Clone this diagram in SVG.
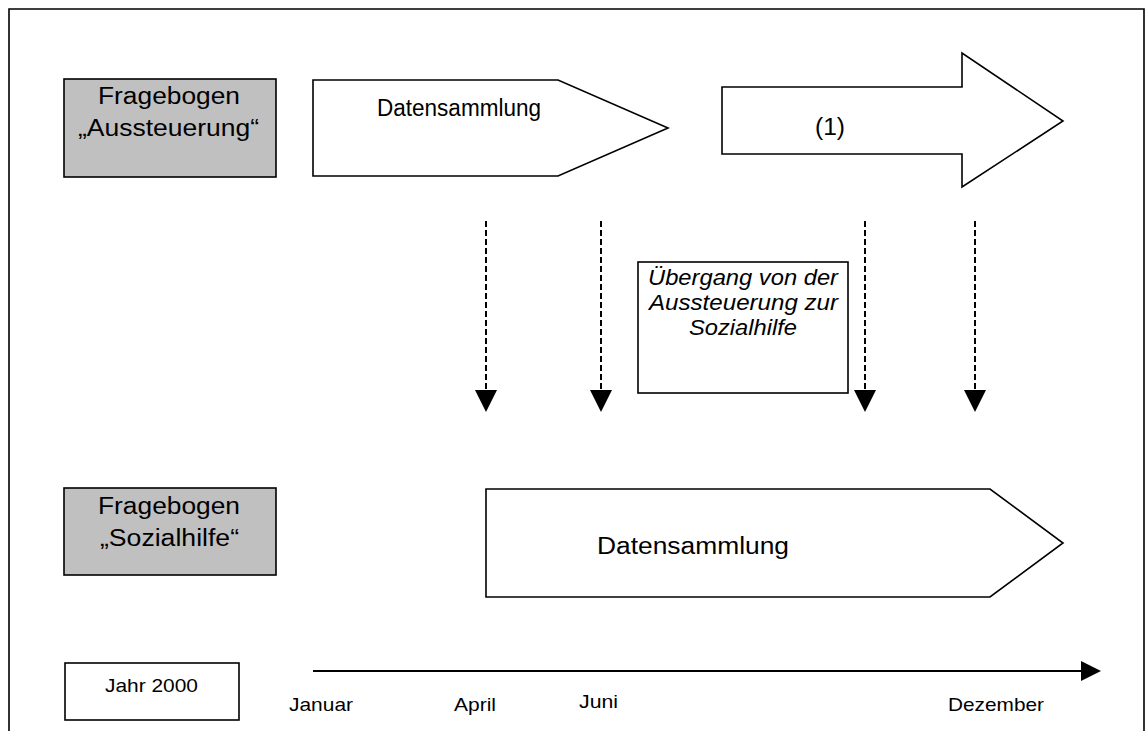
<svg xmlns="http://www.w3.org/2000/svg" width="1146" height="731" viewBox="0 0 1146 731">
<style>
text{font-family:"Liberation Sans",Arial,sans-serif;fill:#000}
.shape{fill:#fff;stroke:#000;stroke-width:1.6}
.gray{fill:#c0c0c0;stroke:#000;stroke-width:1.6}
.lbl{font-size:23px}
.it{font-size:22px;font-style:italic}
.sm{font-size:19px}
.dash{stroke:#000;stroke-width:2;stroke-dasharray:6 3;fill:none}
.head{fill:#000}
</style>
<rect width="1146" height="731" fill="#fff"/>
<g id="frame" fill="none" stroke="#000" stroke-width="1.6">
<polyline points="9,731 9,9 1144,9 1144,731"/>
</g>
<g id="q1">
<rect class="gray" x="64" y="79" width="212" height="98"/>
<text class="lbl" x="98" y="104" textLength="142" lengthAdjust="spacingAndGlyphs">Fragebogen</text>
<text class="lbl" x="78" y="136" textLength="181" lengthAdjust="spacingAndGlyphs">„Aussteuerung“</text>
</g>
<g id="daten1">
<polygon class="shape" points="313,80 558,80 668,128 558,176 313,176"/>
<text class="lbl" x="377" y="116" textLength="164" lengthAdjust="spacingAndGlyphs">Datensammlung</text>
</g>
<g id="arrow1">
<polygon class="shape" points="722,87 962,87 962,53 1063,121 962,187 962,154 722,154"/>
<text class="lbl" x="815" y="135" textLength="30" lengthAdjust="spacingAndGlyphs">(1)</text>
</g>
<g id="uebergang">
<rect class="shape" x="638" y="262" width="210" height="131"/>
<text class="it" x="648" y="285" textLength="190" lengthAdjust="spacingAndGlyphs">Übergang von der</text>
<text class="it" x="649" y="310" textLength="189" lengthAdjust="spacingAndGlyphs">Aussteuerung zur</text>
<text class="it" x="689" y="335" textLength="108" lengthAdjust="spacingAndGlyphs">Sozialhilfe</text>
</g>
<g id="q2">
<rect class="gray" x="64" y="488" width="212" height="87"/>
<text class="lbl" x="98" y="514" textLength="142" lengthAdjust="spacingAndGlyphs">Fragebogen</text>
<text class="lbl" x="100" y="546" textLength="139" lengthAdjust="spacingAndGlyphs">„Sozialhilfe“</text>
</g>
<g id="daten2">
<polygon class="shape" points="486,489 990,489 1063,543 990,597 486,597"/>
<text class="lbl" x="597" y="554" textLength="192" lengthAdjust="spacingAndGlyphs">Datensammlung</text>
</g>
<g id="jahr">
<rect class="shape" x="65" y="663" width="174" height="57"/>
<text class="sm" x="105" y="692" textLength="93" lengthAdjust="spacingAndGlyphs">Jahr 2000</text>
</g>
<g id="labels">
<text class="sm" x="289" y="711" textLength="64" lengthAdjust="spacingAndGlyphs">Januar</text>
<text class="sm" x="454" y="711" textLength="42" lengthAdjust="spacingAndGlyphs">April</text>
<text class="sm" x="579" y="708" textLength="39" lengthAdjust="spacingAndGlyphs">Juni</text>
<text class="sm" x="948" y="711" textLength="96" lengthAdjust="spacingAndGlyphs">Dezember</text>
</g>
<g id="connectors">
<line class="dash" x1="486" y1="221" x2="486" y2="391"/>
<polygon class="head" points="475,390 497,390 486,412"/>
<line class="dash" x1="601" y1="221" x2="601" y2="391"/>
<polygon class="head" points="590,390 612,390 601,412"/>
<line class="dash" x1="865" y1="221" x2="865" y2="391"/>
<polygon class="head" points="854,390 876,390 865,412"/>
<line class="dash" x1="975" y1="221" x2="975" y2="391"/>
<polygon class="head" points="964,390 986,390 975,412"/>
<line x1="313" y1="671" x2="1082" y2="671" stroke="#000" stroke-width="2"/>
<polygon class="head" points="1081,661 1101,671 1081,681"/>
</g>
</svg>
